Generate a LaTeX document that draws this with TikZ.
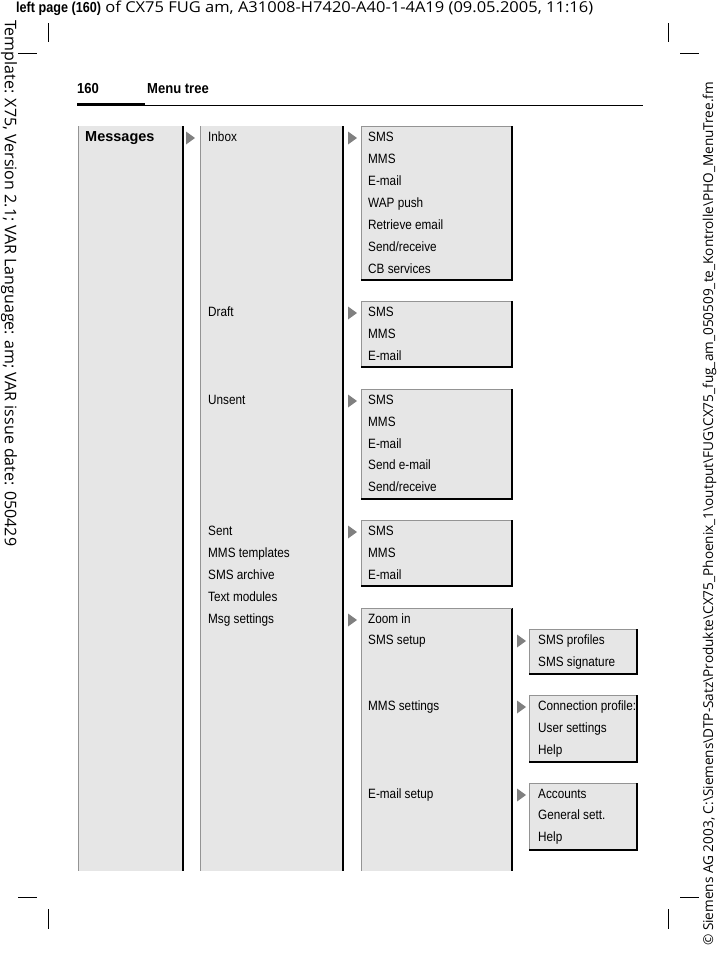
\documentclass[tikz,border=0pt]{standalone}
\usepackage{fontspec}
\setmainfont{Liberation Sans}
\newfontfamily\narrowfont[FakeStretch=0.87]{Liberation Sans}
\newfontfamily\titlefont[FakeStretch=0.9]{Liberation Sans}
\newfontfamily\sidefont{Open Sans}
\newfontfamily\headfont[FakeStretch=1.1]{Open Sans}
\definecolor{boxfill}{gray}{0.902}
\definecolor{edgegray}{gray}{0.58}
\definecolor{arrowgray}{gray}{0.5}
\newcommand\rowfont{\narrowfont\fontsize{13.5}{15}\selectfont}
\newcommand\openmenubox[4]{%
  \fill[boxfill] (#1,#2) rectangle (#3,#4);
  \draw[thinedge] (#1,#2) -- (#1,#4);
  \draw[thickedge] (#3,#2) -- (#3,#4);}
\newcommand\closedmenubox[4]{%
  \fill[boxfill] (#1,#2) rectangle (#3,#4);
  \draw[thinedge] (#1,#4) -- (#1,#2) -- (#3,#2);
  \draw[thickedge] (#1,#4) -- (#3,#4) -- (#3,#2);}
\newcommand\menutri[2]{%
  \fill[arrowgray] (#1,#2-6.5) -- (#1+9,#2) -- (#1,#2+6.5) -- cycle;}
\begin{document}
\begin{tikzpicture}[x=1pt,y=-1pt,
  thinedge/.style={draw=edgegray,line width=0.8pt},
  thickedge/.style={draw=black,line width=2.6pt},
  rowtext/.style={anchor=base west,inner sep=0pt,font=\rowfont},
  cropmark/.style={draw=black,line width=0.8pt},
  sidetext/.style={anchor=base west,inner sep=0pt}]
\useasboundingbox (0,0) rectangle (716,954);
\fill[white] (0,0) rectangle (716,954);

% header line
\node[anchor=base west,inner sep=0pt,font=\narrowfont\bfseries\fontsize{14.5}{16}\selectfont] (hdr) at (16,12.5)
  {left page (160)};
\node[anchor=base west,inner sep=0pt,font=\headfont\fontsize{15}{17}\selectfont] (hdr2) at ([xshift=4pt]hdr.base east)
  {of CX75 FUG am, A31008-H7420-A40-1-4A19 (09.05.2005, 11:16)};

% crop marks
\draw[cropmark] (48,23) -- (48,42);
\draw[cropmark] (18,53) -- (37,53);
\draw[cropmark] (668,23) -- (668,42);
\draw[cropmark] (680,53) -- (699,53);
\draw[cropmark] (48,909) -- (48,929);
\draw[cropmark] (18,897) -- (37,897);
\draw[cropmark] (668,909) -- (668,929);
\draw[cropmark] (680,897) -- (699,897);

% side texts
\node[sidetext,rotate=-90,font=\sidefont\fontsize{16}{18}\selectfont] (lefttext) at (5,20)
  {Template: X75, Version 2.1; VAR Language: am; VAR issue date: 050429};
\node[sidetext,rotate=90,font=\sidefont\fontsize{13.6}{15}\selectfont] (righttext) at (713,946)
  {\textcopyright{} Siemens AG 2003, C:\textbackslash Siemens\textbackslash DTP-Satz\textbackslash Produkte\textbackslash CX75\_Phoenix\_1\textbackslash output\textbackslash FUG\textbackslash CX75\_fug\_am\_050509\_te\_Kontrolle\textbackslash PHO\_MenuTree.fm};

% page title
\node[anchor=base west,inner sep=0pt,font=\titlefont\bfseries\fontsize{14.5}{16}\selectfont] (pnum) at (77,93) {160};
\node[anchor=base west,inner sep=0pt,font=\titlefont\bfseries\fontsize{14.5}{16}\selectfont] (ptitle) at (147,93) {Menu tree};
\draw[line width=0.8pt] (77,105.5) -- (643,105.5);
\fill[black] (77,102.5) rectangle (145,106);

% column 1 and 2
\openmenubox{78}{126}{183}{871}
\openmenubox{200}{126}{343}{871}
\node[anchor=base west,inner sep=0pt,font=\bfseries\fontsize{14.5}{16}\selectfont] (messages) at (85,141) {Messages};
\menutri{186}{138}

\foreach \t/\y [count=\i] in {Inbox/136,Draft/311,Unsent/399,Sent/530,{MMS templates}/552,{SMS archive}/574,{Text modules}/596,{Msg settings}/618}
  {\node[rowtext] (c2-\i) at (208,\y+5) {\t};}
\foreach \y in {136,311,399,530,618}
  {\menutri{348}{\y+2}}

% column 3
\closedmenubox{361}{126}{512}{280}
\closedmenubox{361}{301}{512}{367}
\closedmenubox{361}{389}{512}{499}
\closedmenubox{361}{520}{512}{586}
\openmenubox{361}{608}{512}{871}
\draw[thinedge] (361,608) -- (512,608);

\foreach \t/\y [count=\i] in {SMS/136,MMS/158,E-mail/180,{WAP push}/202,{Retrieve email}/224,{Send/receive}/246,{CB services}/268}
  {\node[rowtext] (inbox-\i) at (368,\y+5) {\t};}
\foreach \t/\y [count=\i] in {SMS/311,MMS/333,E-mail/355}
  {\node[rowtext] (draft-\i) at (368,\y+5) {\t};}
\foreach \t/\y [count=\i] in {SMS/399,MMS/421,E-mail/443,{Send e-mail}/464,{Send/receive}/486}
  {\node[rowtext] (unsent-\i) at (368,\y+5) {\t};}
\foreach \t/\y [count=\i] in {SMS/530,MMS/552,E-mail/574}
  {\node[rowtext] (sent-\i) at (368,\y+5) {\t};}
\foreach \t/\y [count=\i] in {{Zoom in}/618,{SMS setup}/639,{MMS settings}/705,{E-mail setup}/793}
  {\node[rowtext] (msgset-\i) at (368,\y+5) {\t};}
\foreach \y in {639,705,793}
  {\menutri{517}{\y+2}}

% column 4
\closedmenubox{529}{629}{637}{674}
\closedmenubox{529}{695}{637}{762}
\closedmenubox{529}{783}{637}{850}
\foreach \t/\y [count=\i] in {{SMS profiles}/639,{SMS signature}/661}
  {\node[rowtext] (smssetup-\i) at (538,\y+5) {\t};}
\foreach \t/\y [count=\i] in {{Connection profile:}/705,{User settings}/727,Help/749}
  {\node[rowtext] (mmsset-\i) at (538,\y+5) {\t};}
\foreach \t/\y [count=\i] in {Accounts/793,{General sett.}/814,Help/836}
  {\node[rowtext] (emailset-\i) at (538,\y+5) {\t};}
\end{tikzpicture}
\end{document}
